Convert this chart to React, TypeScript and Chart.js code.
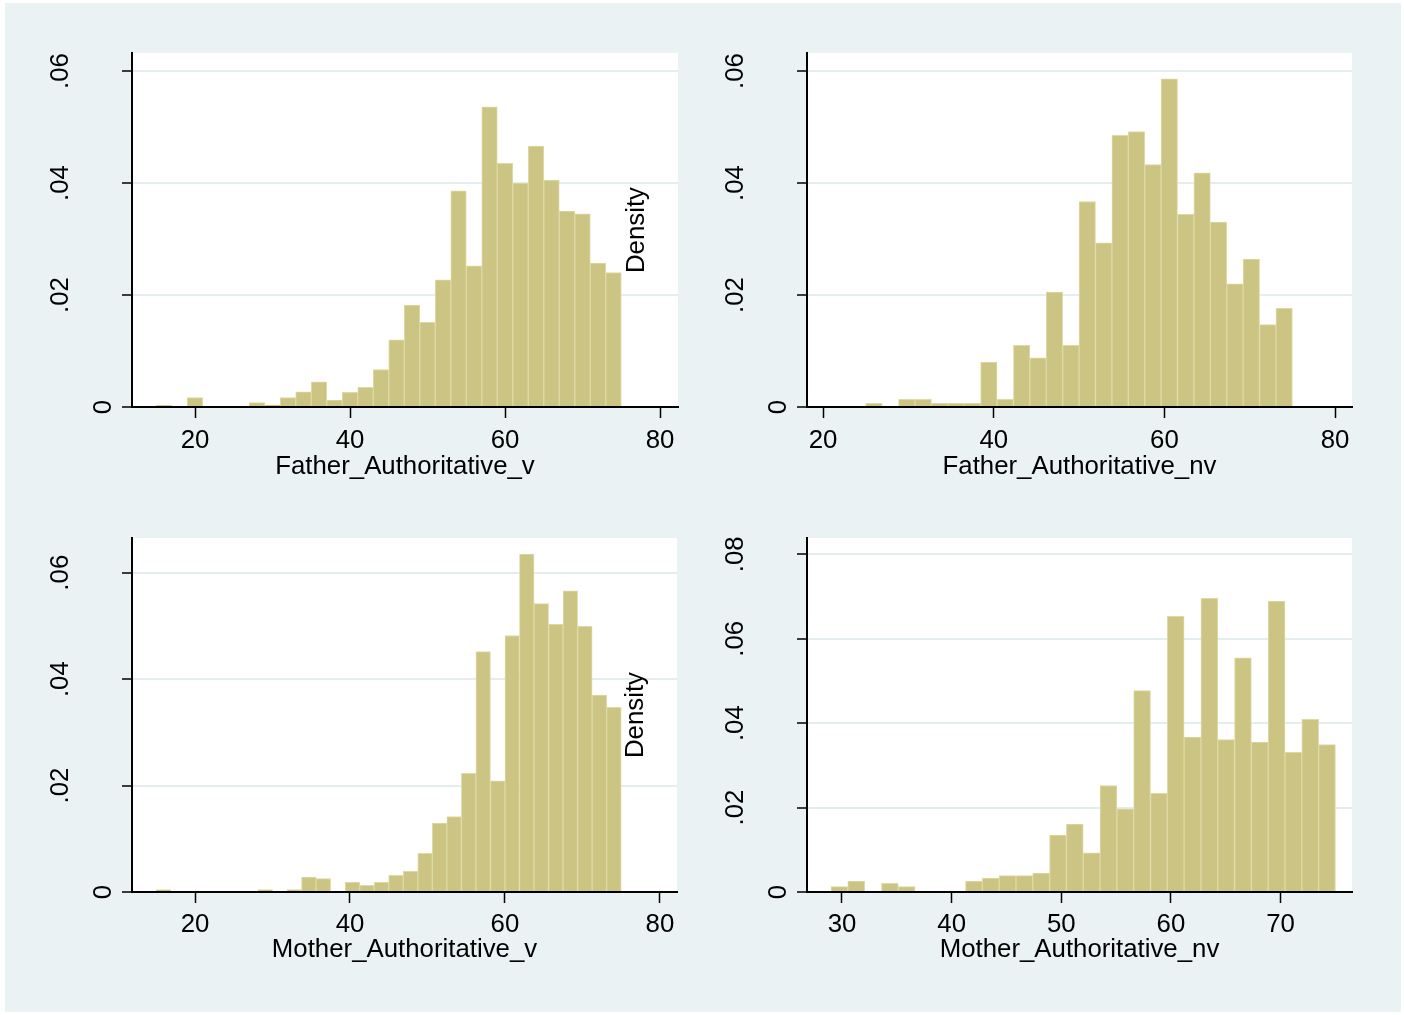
import React, { useEffect, useRef } from 'react';
import { Chart, registerables } from 'chart.js';

Chart.register(...registerables);

const FONT_FAMILY = '"Liberation Sans", Arial, Helvetica, sans-serif';
const FONT_SIZE = 25.8;
const PAGE_BG = '#EAF2F3';
const GRID_COLOR = '#E4EDF0';
const BAR_FILL = '#CCC482';
const BAR_EDGE = '#DEDAA6';
const INK = '#000000';

// Father_Authoritative_v: 30 bins of width 2 from 15 to 75
const FATHER_V_START = 15;
const FATHER_V_WIDTH = 2;
const FATHER_V_DENSITY = [
  0.0003, 0, 0.0017, 0, 0, 0, 0.0008, 0.0004, 0.0017, 0.0027,
  0.0045, 0.00125, 0.0026, 0.0035, 0.0067, 0.012, 0.0182, 0.0151, 0.0227, 0.0386,
  0.0252, 0.0536, 0.0435, 0.04, 0.0466, 0.0405, 0.035, 0.0345, 0.0257, 0.024,
];

// Father_Authoritative_nv: 26 bins from 25 to 75
const FATHER_NV_START = 25;
const FATHER_NV_WIDTH = 50 / 26;
const FATHER_NV_DENSITY = [
  0.00065, 0, 0.00137, 0.00137, 0.00065, 0.00065, 0.00065, 0.00804, 0.00137, 0.011,
  0.0088, 0.0205, 0.011, 0.0367, 0.0293, 0.0485, 0.0492, 0.0433, 0.0586, 0.0344,
  0.0418, 0.033, 0.022, 0.0264, 0.0147, 0.0176,
];

// Mother_Authoritative_v: 32 bins from 15 to 75
const MOTHER_V_START = 15;
const MOTHER_V_WIDTH = 60 / 32;
const MOTHER_V_DENSITY = [
  0.00044, 0, 0, 0, 0, 0, 0, 0.00044, 0, 0.00044,
  0.00282, 0.0025, 0, 0.0018, 0.00125, 0.0018, 0.00313, 0.0039, 0.00727, 0.01297,
  0.01416, 0.0223, 0.0452, 0.0209, 0.0482, 0.0635, 0.0542, 0.0503, 0.0566, 0.0499,
  0.037, 0.0347,
];

// Mother_Authoritative_nv: 30 bins from 29 to 75
const MOTHER_NV_START = 29;
const MOTHER_NV_WIDTH = 46 / 30;
const MOTHER_NV_DENSITY = [
  0.00126, 0.0026, 0, 0.00205, 0.00126, 0, 0, 0, 0.0026, 0.0033,
  0.00387, 0.00387, 0.0045, 0.0135, 0.0161, 0.0093, 0.0252, 0.0197, 0.0477, 0.0234,
  0.0653, 0.0367, 0.0696, 0.0361, 0.0555, 0.0355, 0.0689, 0.0331, 0.0409, 0.0349,
];

const X_TICKS_WIDE = [20, 40, 60, 80];
const X_TICKS_NARROW = [30, 40, 50, 60, 70];
const Y_TICKS_06 = [0, 0.02, 0.04, 0.06];
const Y_LABELS_06 = ['0', '.02', '.04', '.06'];
const Y_TICKS_08 = [0, 0.02, 0.04, 0.06, 0.08];
const Y_LABELS_08 = ['0', '.02', '.04', '.06', '.08'];

type Rect = { left: number; top: number; width: number; height: number };

type Panel = {
  title: string;
  start: number;
  width: number;
  density: number[];
  xMin: number;
  xMax: number;
  yMax: number;
  xTicks: number[];
  yTicks: number[];
  yLabels: string[];
  showDensityTitle: boolean;
  canvas: Rect;
  plot: { left: number; top: number; right: number; bottom: number };
  tickDrop: number;
  titleDrop: number;
};

const PANELS: Panel[] = [
  {
    title: 'Father_Authoritative_v',
    start: FATHER_V_START, width: FATHER_V_WIDTH, density: FATHER_V_DENSITY,
    xMin: 11.87, xMax: 82.32, yMax: 0.06321,
    xTicks: X_TICKS_WIDE, yTicks: Y_TICKS_06, yLabels: Y_LABELS_06,
    showDensityTitle: true,
    canvas: { left: 0, top: 0, width: 702, height: 507 },
    plot: { left: 132, top: 53, right: 678, bottom: 407 },
    tickDrop: 40.5, titleDrop: 67,
  },
  {
    title: 'Father_Authoritative_nv',
    start: FATHER_NV_START, width: FATHER_NV_WIDTH, density: FATHER_NV_DENSITY,
    xMin: 18.11, xMax: 81.99, yMax: 0.06321,
    xTicks: X_TICKS_WIDE, yTicks: Y_TICKS_06, yLabels: Y_LABELS_06,
    showDensityTitle: false,
    canvas: { left: 702, top: 0, width: 702, height: 507 },
    plot: { left: 807, top: 53, right: 1352, bottom: 407 },
    tickDrop: 40.5, titleDrop: 67,
  },
  {
    title: 'Mother_Authoritative_v',
    start: MOTHER_V_START, width: MOTHER_V_WIDTH, density: MOTHER_V_DENSITY,
    xMin: 11.87, xMax: 82.2, yMax: 0.06652,
    xTicks: X_TICKS_WIDE, yTicks: Y_TICKS_06, yLabels: Y_LABELS_06,
    showDensityTitle: true,
    canvas: { left: 0, top: 507, width: 702, height: 508 },
    plot: { left: 132, top: 538, right: 677, bottom: 892 },
    tickDrop: 39.5, titleDrop: 64.5,
  },
  {
    title: 'Mother_Authoritative_nv',
    start: MOTHER_NV_START, width: MOTHER_NV_WIDTH, density: MOTHER_NV_DENSITY,
    xMin: 26.81, xMax: 76.51, yMax: 0.08387,
    xTicks: X_TICKS_NARROW, yTicks: Y_TICKS_08, yLabels: Y_LABELS_08,
    showDensityTitle: false,
    canvas: { left: 702, top: 507, width: 702, height: 508 },
    plot: { left: 807, top: 538, right: 1352, bottom: 892 },
    tickDrop: 39.5, titleDrop: 64.5,
  },
];

const AXIS_BOX = 12;

// White plot region behind the bars
const plotBackground = {
  id: 'plotBackground',
  beforeDraw(chart: any) {
    const { ctx, chartArea } = chart;
    ctx.save();
    ctx.fillStyle = '#ffffff';
    ctx.fillRect(chartArea.left, chartArea.top, chartArea.right - chartArea.left, chartArea.bottom - chartArea.top);
    ctx.restore();
  },
};

// Tick labels, axis title and the vertical "Density" caption
const panelText = {
  id: 'panelText',
  afterDraw(chart: any, _args: any, opts: any) {
    const { ctx, chartArea } = chart;
    const xs = chart.scales.x;
    const ys = chart.scales.y;
    ctx.save();
    ctx.fillStyle = INK;
    ctx.font = `${FONT_SIZE}px ${FONT_FAMILY}`;
    ctx.textAlign = 'center';
    ctx.textBaseline = 'alphabetic';

    opts.xTicks.forEach((v: number) => {
      ctx.fillText(String(v), xs.getPixelForValue(v), chartArea.bottom + opts.tickDrop);
    });
    ctx.fillText(opts.title, (chartArea.left + chartArea.right) / 2, chartArea.bottom + opts.titleDrop);

    opts.yTicks.forEach((v: number, i: number) => {
      const label = opts.yLabels[i];
      const gap = label.length > 1 ? 64 : 21.5;
      ctx.save();
      ctx.translate(chartArea.left - gap, ys.getPixelForValue(v));
      ctx.rotate(-Math.PI / 2);
      ctx.fillText(label, 0, 0);
      ctx.restore();
    });

    if (opts.showDensityTitle) {
      ctx.save();
      ctx.translate(chartArea.right - 34.5, (chartArea.top + chartArea.bottom) / 2);
      ctx.rotate(-Math.PI / 2);
      ctx.fillText('Density', 0, 0);
      ctx.restore();
    }
    ctx.restore();
  },
};

function HistogramPanel({ panel }: { panel: Panel }) {
  const ref = useRef<HTMLCanvasElement | null>(null);

  useEffect(() => {
    const canvas = ref.current;
    if (!canvas) return;
    const c = panel.canvas;
    const p = panel.plot;
    const padding = {
      left: p.left - c.left - AXIS_BOX,
      top: p.top - c.top,
      right: c.left + c.width - p.right,
      bottom: c.top + c.height - p.bottom - AXIS_BOX,
    };
    const points = panel.density.map((d, i) => ({
      x: panel.start + panel.width * (i + 0.5),
      y: d,
    }));

    const chart = new Chart(canvas, {
      type: 'bar',
      data: {
        datasets: [
          {
            data: points,
            backgroundColor: BAR_FILL,
            borderColor: BAR_EDGE,
            borderWidth: 1,
            borderSkipped: 'start',
            barPercentage: 1,
            categoryPercentage: 1,
          } as any,
        ],
      },
      options: {
        responsive: false,
        animation: false,
        events: [],
        layout: { padding },
        plugins: {
          legend: { display: false },
          tooltip: { enabled: false },
          panelText: {
            xTicks: panel.xTicks,
            yTicks: panel.yTicks,
            yLabels: panel.yLabels,
            title: panel.title,
            showDensityTitle: panel.showDensityTitle,
            tickDrop: panel.tickDrop,
            titleDrop: panel.titleDrop,
          },
        } as any,
        scales: {
          x: {
            type: 'linear',
            min: panel.xMin,
            max: panel.xMax,
            offset: false,
            afterBuildTicks: (scale: any) => {
              scale.ticks = panel.xTicks.map((v) => ({ value: v }));
            },
            afterFit: (scale: any) => {
              scale.height = AXIS_BOX;
            },
            ticks: { display: false },
            grid: {
              offset: false,
              drawOnChartArea: false,
              drawTicks: true,
              tickLength: 11,
              tickColor: INK,
              tickWidth: 1.5,
            },
            border: { display: true, color: INK, width: 2, z: 1 },
          },
          y: {
            type: 'linear',
            min: 0,
            max: panel.yMax,
            afterBuildTicks: (scale: any) => {
              scale.ticks = panel.yTicks.map((v) => ({ value: v }));
            },
            afterFit: (scale: any) => {
              scale.width = AXIS_BOX;
            },
            ticks: { display: false },
            grid: {
              drawOnChartArea: true,
              color: GRID_COLOR,
              lineWidth: 2,
              drawTicks: true,
              tickLength: 10,
              tickColor: INK,
              tickWidth: 1.5,
            },
            border: { display: true, color: INK, width: 2, z: 1 },
          },
        },
      } as any,
      plugins: [plotBackground, panelText],
    });

    return () => chart.destroy();
  }, [panel]);

  const c = panel.canvas;
  return (
    <canvas
      ref={ref}
      width={c.width}
      height={c.height}
      style={{ position: 'absolute', left: c.left, top: c.top, width: c.width, height: c.height }}
    />
  );
}

export default function App() {
  return (
    <div
      style={{
        position: 'fixed',
        left: 0,
        top: 0,
        width: 1404,
        height: 1015,
        background: '#ffffff',
        overflow: 'hidden',
      }}
    >
      <div style={{ position: 'absolute', left: 5, top: 3, width: 1396, height: 1009, background: PAGE_BG }} />
      {PANELS.map((p) => (
        <HistogramPanel key={p.title} panel={p} />
      ))}
    </div>
  );
}
